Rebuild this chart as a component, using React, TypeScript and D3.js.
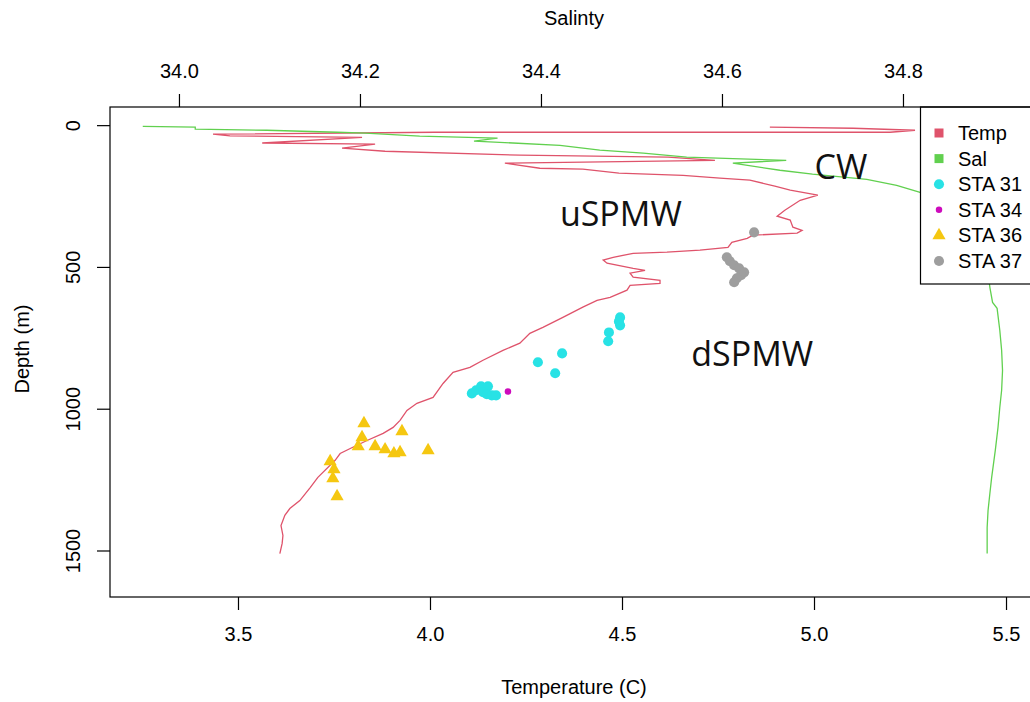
import React, { useEffect, useRef } from 'react'

import * as d3 from 'd3'

const tempTicks = [3.5, 4.0, 4.5, 5.0, 5.5]
const salTicks = [34.0, 34.2, 34.4, 34.6, 34.8]
const depthTicks = [0, 500, 1000, 1500]

// CTD temperature profile, [temp C, depth m]
const tempProfile: [number, number][] = [
  [4.885, 7], [5.102, 11], [5.263, 18], [5.198, 25], [4.013, 25], [3.435, 32],
  [3.479, 38], [3.823, 43], [3.563, 63], [3.857, 67], [3.771, 81], [3.883, 92],
  [4.234, 106], [4.62, 113], [4.742, 124], [4.195, 134], [4.286, 152], [4.398, 155],
  [4.492, 169], [4.659, 177], [4.755, 187], [4.833, 194], [4.898, 215], [4.938, 229],
  [5.01, 247], [4.964, 265], [4.924, 300], [4.904, 321], [4.938, 335], [4.945, 360],
  [4.969, 371], [4.956, 381], [4.841, 388], [4.826, 399], [4.786, 413], [4.776, 431],
  [4.703, 441], [4.617, 448], [4.529, 452], [4.477, 466], [4.451, 476], [4.461, 487],
  [4.529, 505], [4.56, 512], [4.521, 522], [4.529, 536], [4.599, 547], [4.599, 558],
  [4.521, 565], [4.513, 582], [4.469, 607], [4.435, 618], [4.398, 642], [4.346, 678],
  [4.294, 713], [4.26, 734], [4.234, 769], [4.19, 794], [4.138, 829], [4.104, 854],
  [4.06, 872], [4.034, 911], [4.008, 960], [3.966, 981], [3.94, 1006], [3.922, 1041],
  [3.904, 1066], [3.878, 1087], [3.836, 1112], [3.799, 1136], [3.766, 1158], [3.753, 1182],
  [3.708, 1242], [3.688, 1278], [3.661, 1324], [3.635, 1352], [3.622, 1376], [3.612, 1412],
  [3.617, 1447], [3.615, 1475], [3.609, 1511],
]

// CTD salinity profile, [salinity, depth m]
const salProfile: [number, number][] = [
  [33.96, 4], [34.018, 7], [34.018, 14], [34.097, 18], [34.175, 25], [34.206, 28],
  [34.266, 39], [34.352, 46], [34.326, 56], [34.369, 63], [34.421, 71], [34.465, 88],
  [34.513, 99], [34.561, 113], [34.671, 124], [34.612, 134], [34.664, 159], [34.7, 173],
  [34.76, 191], [34.793, 212], [34.818, 236], [34.852, 282], [34.88, 388], [34.893, 494],
  [34.896, 572], [34.899, 625], [34.904, 646], [34.907, 724], [34.909, 794], [34.91, 865],
  [34.909, 935], [34.907, 995], [34.905, 1066], [34.902, 1147], [34.898, 1242],
  [34.896, 1299], [34.894, 1359], [34.893, 1419], [34.893, 1511],
]

// bottle samples, [temp C, depth m]
const sta31: [number, number][] = [
  [4.495, 678], [4.492, 692], [4.495, 706], [4.466, 731], [4.464, 762], [4.344, 805],
  [4.281, 836], [4.326, 875], [4.109, 946], [4.12, 935], [4.133, 921], [4.151, 921],
  [4.138, 942], [4.148, 949], [4.161, 953], [4.172, 953],
]
const sta34: [number, number][] = [[4.203, 939]]
const sta36: [number, number][] = [
  [3.828, 1052], [3.927, 1080], [3.823, 1101], [3.813, 1133], [3.857, 1133], [3.883, 1144],
  [3.906, 1158], [3.922, 1154], [3.995, 1147], [3.74, 1186], [3.75, 1214], [3.747, 1246],
  [3.758, 1309],
]
const sta37: [number, number][] = [
  [4.844, 378], [4.773, 466], [4.781, 480], [4.792, 494], [4.805, 505], [4.818, 519],
  [4.81, 529], [4.799, 540], [4.792, 554],
]

const legendLabels = ['Temp', 'Sal', 'STA 31', 'STA 34', 'STA 36', 'STA 37']
const legendColors = ['#DF536B', '#61D04F', '#28E2E5', '#CD0BBC', '#F5C710', '#9E9E9E']
const legendShapes = ['square', 'square', 'circle', 'dot', 'triangle', 'circle']

const massLabels = ['CW', 'uSPMW', 'dSPMW']
const massTemps = [5.07, 4.497, 4.839]
const massDepths = [148, 314, 808]

const FONT = "'Liberation Sans', Arial, sans-serif"

const symbolFor = (shape: string) => {
  if (shape === 'square') return d3.symbol().type(d3.symbolSquare).size(81)()
  if (shape === 'triangle') return d3.symbol().type(d3.symbolTriangle).size(75)()
  if (shape === 'dot') return d3.symbol().type(d3.symbolCircle).size(33)()
  return d3.symbol().type(d3.symbolCircle).size(80)()
}

const ProfileChart = () => {
  const svgRef = useRef<SVGSVGElement>(null)

  useEffect(() => {
    const width = 1030
    const height = 702
    const margin = { top: 107, right: -10, bottom: 105, left: 110 }

    const svg = d3.select(svgRef.current).attr('width', width).attr('height', height)
    svg.selectAll('*').remove()

    const x = d3
      .scaleLinear()
      .domain([3.1667, 5.5885])
      .range([margin.left, width - margin.right])
    const xs = d3
      .scaleLinear()
      .domain([33.9238, 34.9514])
      .range([margin.left, width - margin.right])
    const y = d3
      .scaleLinear()
      .domain([-64, 1664])
      .range([margin.top, height - margin.bottom])

    // profiles
    const tempLine = d3
      .line<[number, number]>()
      .x((d) => x(d[0]))
      .y((d) => y(d[1]))
    const salLine = d3
      .line<[number, number]>()
      .x((d) => xs(d[0]))
      .y((d) => y(d[1]))

    svg
      .append('path')
      .datum(tempProfile)
      .attr('d', tempLine)
      .attr('fill', 'none')
      .attr('stroke', legendColors[0])
      .attr('stroke-width', 1.3)
    svg
      .append('path')
      .datum(salProfile)
      .attr('d', salLine)
      .attr('fill', 'none')
      .attr('stroke', legendColors[1])
      .attr('stroke-width', 1.3)

    // station samples
    const stations = [sta31, sta34, sta36, sta37]
    stations.forEach((pts, i) => {
      svg
        .append('g')
        .selectAll('path')
        .data(pts)
        .enter()
        .append('path')
        .attr('transform', (d) => `translate(${x(d[0])},${y(d[1])})`)
        .attr('d', symbolFor(legendShapes[i + 2]))
        .attr('fill', legendColors[i + 2])
    })

    // water mass labels
    svg
      .append('g')
      .selectAll('text')
      .data(massLabels)
      .enter()
      .append('text')
      .attr('x', (d, i) => x(massTemps[i]))
      .attr('y', (d, i) => y(massDepths[i]))
      .attr('dy', '0.35em')
      .attr('text-anchor', 'middle')
      .style('font-family', "'Open Sans', 'Noto Sans', sans-serif")
      .style('font-size', '34px')
      .attr('fill', '#111')
      .text((d) => d)

    // legend
    const legend = svg.append('g')
    legend
      .append('rect')
      .attr('x', 920.5)
      .attr('y', margin.top)
      .attr('width', 200)
      .attr('height', 177)
      .attr('fill', 'white')
      .attr('stroke', 'black')
      .attr('stroke-width', 1.2)
    legendLabels.forEach((label, i) => {
      const cy = 133 + i * 25.6
      legend
        .append('path')
        .attr('transform', `translate(939,${cy})`)
        .attr('d', symbolFor(legendShapes[i]))
        .attr('fill', legendColors[i])
      legend
        .append('text')
        .attr('x', 958)
        .attr('y', cy + 7)
        .style('font-family', FONT)
        .style('font-size', '20px')
        .text(label)
    })

    // plot box
    svg
      .append('rect')
      .attr('x', margin.left)
      .attr('y', margin.top)
      .attr('width', width - margin.right - margin.left)
      .attr('height', height - margin.bottom - margin.top)
      .attr('fill', 'none')
      .attr('stroke', 'black')
      .attr('stroke-width', 1.2)

    // axes
    const styleAxis = (g) => {
      g.select('.domain').remove()
      g.selectAll('line').attr('stroke', 'black').attr('stroke-width', 1.2)
      g.attr('font-family', FONT).attr('font-size', 20)
      g.selectAll('text').attr('fill', 'black')
    }

    svg
      .append('g')
      .attr('transform', `translate(0,${height - margin.bottom})`)
      .call(
        d3.axisBottom(x).tickValues(tempTicks).tickFormat(d3.format('.1f')).tickSize(13).tickPadding(17)
      )
      .call(styleAxis)

    svg
      .append('g')
      .attr('transform', `translate(0,${margin.top})`)
      .call(
        d3.axisTop(xs).tickValues(salTicks).tickFormat(d3.format('.1f')).tickSize(13).tickPadding(16)
      )
      .call(styleAxis)

    const left = svg
      .append('g')
      .attr('transform', `translate(${margin.left},0)`)
      .call(d3.axisLeft(y).tickValues(depthTicks).tickFormat(d3.format('d')).tickSize(13))
      .call(styleAxis)
    left
      .selectAll('text')
      .attr('transform', 'rotate(-90)')
      .attr('x', 0)
      .attr('y', -30)
      .attr('dy', null)
      .attr('text-anchor', 'middle')

    // axis titles
    svg
      .append('text')
      .attr('x', 574)
      .attr('y', 25)
      .attr('text-anchor', 'middle')
      .style('font-family', FONT)
      .style('font-size', '20px')
      .text('Salinty')
    svg
      .append('text')
      .attr('x', 574)
      .attr('y', 694)
      .attr('text-anchor', 'middle')
      .style('font-family', FONT)
      .style('font-size', '20px')
      .text('Temperature (C)')
    svg
      .append('text')
      .attr('transform', 'translate(29,349) rotate(-90)')
      .attr('text-anchor', 'middle')
      .style('font-family', FONT)
      .style('font-size', '20px')
      .text('Depth (m)')
  }, [])

  return <svg ref={svgRef} style={{ position: 'absolute', left: 0, top: 0, background: 'white' }}></svg>
}

export default function App() {
  return <ProfileChart />
}
